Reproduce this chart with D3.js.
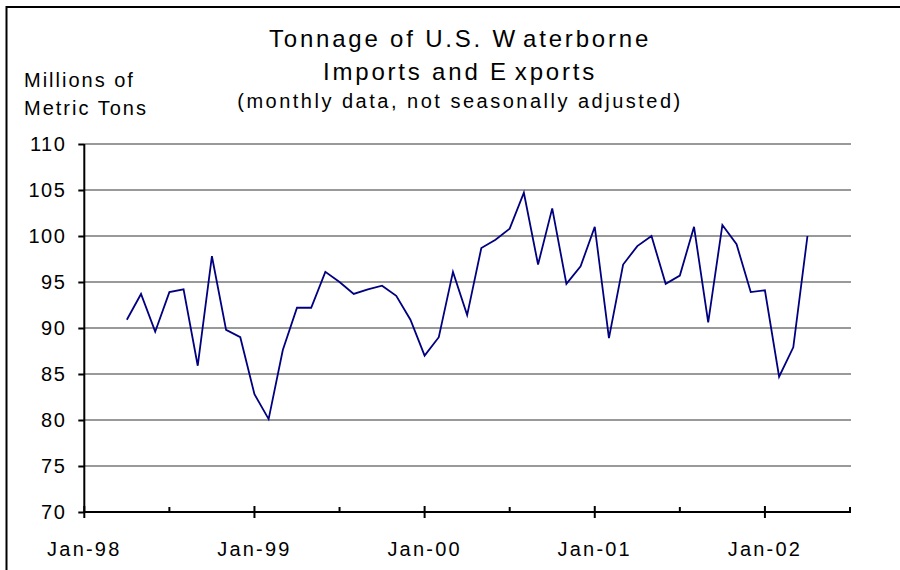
<!DOCTYPE html>
<html>
<head>
<meta charset="utf-8">
<script src="https://cdn.jsdelivr.net/npm/d3@7"></script>
<style>
  html, body { margin: 0; padding: 0; background: #fff; }
  svg { display: block; font-family: "Liberation Sans", Arial, sans-serif; }
</style>
</head>
<body>
<svg id="chart" width="900" height="570"></svg>
<script>
// Monthly tonnage, April 1998 through April 2002 (millions of metric tons)
const months = [
  "1998-04","1998-05","1998-06","1998-07","1998-08","1998-09","1998-10","1998-11","1998-12",
  "1999-01","1999-02","1999-03","1999-04","1999-05","1999-06","1999-07","1999-08","1999-09",
  "1999-10","1999-11","1999-12","2000-01","2000-02","2000-03","2000-04","2000-05","2000-06",
  "2000-07","2000-08","2000-09","2000-10","2000-11","2000-12","2001-01","2001-02","2001-03",
  "2001-04","2001-05","2001-06","2001-07","2001-08","2001-09","2001-10","2001-11","2001-12",
  "2002-01","2002-02","2002-03","2002-04"
];
const tonnage = [
  90.9, 93.7, 89.6, 93.9, 94.2, 85.9, 97.8, 89.8, 89.0,
  82.8, 80.1, 87.6, 92.2, 92.2, 96.1, 95.0, 93.7, 94.2,
  94.6, 93.5, 90.9, 87.0, 89.0, 96.1, 91.4, 98.7, 99.6,
  100.8, 104.7, 96.9, 103.0, 94.8, 96.7, 101.0, 88.9, 96.9,
  98.9, 100.0, 94.8, 95.7, 101.0, 90.6, 101.2, 99.1, 93.9,
  94.1, 84.7, 87.9, 100.0
];
const yTicks = [70, 75, 80, 85, 90, 95, 100, 105, 110];
const yearLabels = ["Jan-98", "Jan-99", "Jan-00", "Jan-01", "Jan-02"];
// Title lines, split where the old typesetting left a wider kern
const titleLines = [["Tonnage of U.S. W", "aterborne"], ["Imports and E", "xports"]];
const subtitle = "(monthly data, not seasonally adjusted)";
const unitLines = ["Millions of", "Metric Tons"];

const svg = d3.select("#chart");
const plotLeft = 84.3, plotRight = 850, plotTop = 144, plotBottom = 512;

// Month index counted from January 1998
const monthIndex = s => {
  const [yr, m] = s.split("-").map(Number);
  return (yr - 1998) * 12 + (m - 1);
};
const x = d3.scaleLinear().domain([0, 54]).range([plotLeft, plotRight]);
const y = d3.scaleLinear().domain([70, 110]).range([plotBottom, plotTop]);

// Frame along the left and top edges
svg.append("path")
  .attr("d", "M6.5,570V7H900")
  .attr("fill", "none").attr("stroke", "#000").attr("stroke-width", 2);

// Titles
const title = svg.append("g").attr("fill", "#000");
titleLines.forEach((parts, i) => {
  const t = title.append("text").attr("x", 460).attr("y", 47 + i * 33)
    .attr("text-anchor", "middle").attr("font-size", 24).attr("letter-spacing", 2.8);
  t.append("tspan").text(parts[0]);
  t.append("tspan").attr("dx", 6).text(parts[1]);
});
title.append("text").attr("x", 460).attr("y", 108)
  .attr("text-anchor", "middle").attr("font-size", 20).attr("letter-spacing", 2.5)
  .text(subtitle);

svg.selectAll("text.unit").data(unitLines).join("text")
  .attr("class", "unit")
  .attr("x", 24).attr("y", (d, i) => 87 + i * 28)
  .attr("font-size", 20).attr("letter-spacing", 2.0)
  .text(d => d);

// Horizontal gridlines
svg.append("g").selectAll("line").data(yTicks.filter(v => v > 70)).join("line")
  .attr("x1", plotLeft).attr("x2", plotRight + 1)
  .attr("y1", d => y(d)).attr("y2", d => y(d))
  .attr("stroke", "#999").attr("stroke-width", 2);

// Y axis
const yAxis = svg.append("g")
  .attr("transform", `translate(${plotLeft},0)`)
  .call(d3.axisLeft(y).tickValues(yTicks).tickSize(6).tickPadding(12).tickFormat(d3.format("d")));
yAxis.select(".domain").attr("stroke", "#000").attr("stroke-width", 2)
  .attr("d", `M0,${plotTop}V${plotBottom}`);
yAxis.selectAll(".tick line").attr("stroke", "#000").attr("stroke-width", 2);
yAxis.selectAll(".tick text")
  .attr("font-family", "Liberation Sans, Arial, sans-serif")
  .attr("font-size", 20).attr("letter-spacing", 1.5).attr("fill", "#000");

// X axis: minor ticks at July (inside), major ticks at January (crossing)
const xg = svg.append("g");
xg.append("line").attr("x1", plotLeft).attr("x2", plotRight + 1)
  .attr("y1", plotBottom).attr("y2", plotBottom)
  .attr("stroke", "#000").attr("stroke-width", 2);
const minor = d3.range(6, 55, 12);
xg.selectAll("line.minor").data(minor).join("line").attr("class", "minor")
  .attr("x1", d => x(d)).attr("x2", d => x(d))
  .attr("y1", plotBottom - 5).attr("y2", plotBottom)
  .attr("stroke", "#000").attr("stroke-width", 2);
const majors = yearLabels.map((d, i) => i * 12);
xg.selectAll("line.major").data(majors).join("line").attr("class", "major")
  .attr("x1", d => x(d)).attr("x2", d => x(d))
  .attr("y1", plotBottom - 6).attr("y2", plotBottom + 6)
  .attr("stroke", "#000").attr("stroke-width", 2);
xg.selectAll("text").data(yearLabels).join("text")
  .attr("x", (d, i) => x(i * 12))
  .attr("y", 556)
  .attr("text-anchor", "middle")
  .attr("font-size", 20).attr("letter-spacing", 2.2)
  .text(d => d);

// Tonnage line
const line = d3.line()
  .x((d, i) => x(monthIndex(months[i])))
  .y(d => y(d));
svg.append("path")
  .datum(tonnage)
  .attr("d", line)
  .attr("fill", "none")
  .attr("stroke", "#000080")
  .attr("stroke-width", 1.8)
  .attr("stroke-linejoin", "miter");
</script>
</body>
</html>
